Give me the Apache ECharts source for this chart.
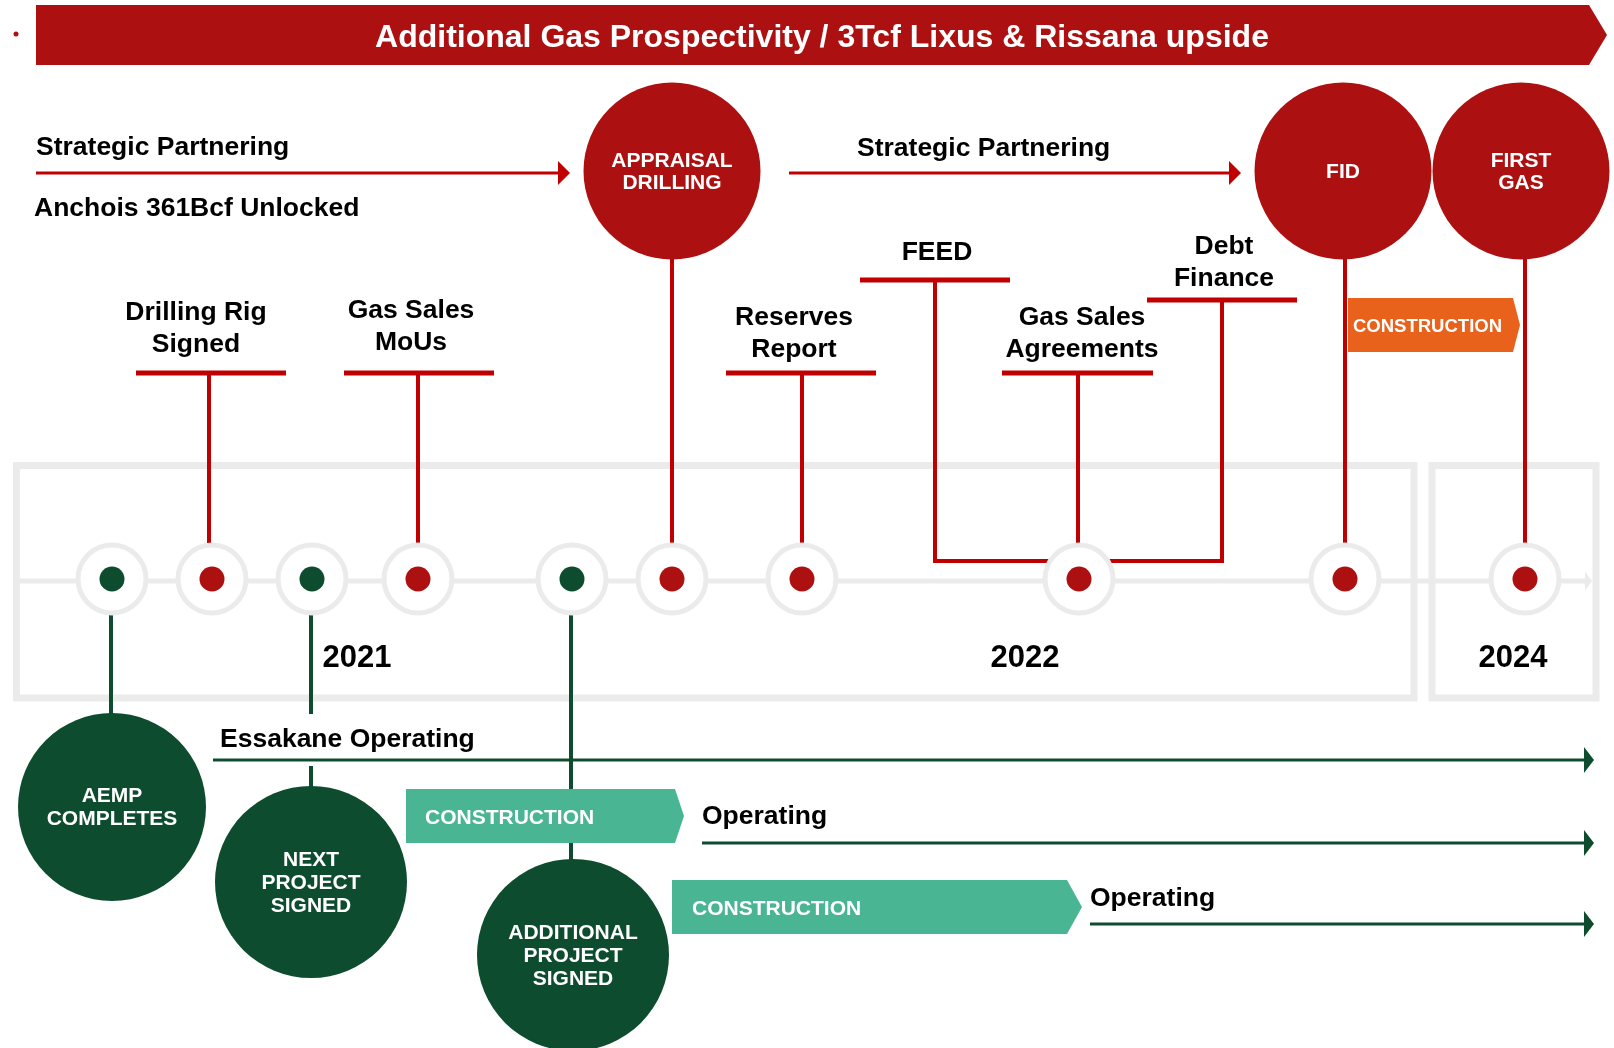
<!DOCTYPE html>
<html>
<head>
    <meta charset="utf-8">
    <title>Gas timeline</title>
    <script src="https://cdn.jsdelivr.net/npm/echarts@6/dist/echarts.min.js"></script>
    <style>
        html, body { margin: 0; padding: 0; background-color: #ffffff; }
        #main { width: 1614px; height: 1048px; }
    </style>
</head>
<body>
<div id="main"></div>
<script>
    // values, in the picture's own units (px of the 1614x1048 original)
    const headerTitle = 'Additional Gas Prospectivity / 3Tcf Lixus & Rissana upside';

    const years = ['2021', '2022', '2024'];
    const yearX = [357, 1025, 1513];
    const yearY = 656;

    // grey frames round the timeline
    const frameFrom = [16.5, 1432];
    const frameTo = [1414, 1596];
    const frameTop = 465.5;
    const frameBottom = 698;

    // dots on the timeline, left to right
    const dotX = [112, 212, 312, 418, 572, 672, 802, 1079, 1345, 1525];
    const dotGroup = ['green', 'red', 'green', 'red', 'green', 'red', 'red', 'red', 'red', 'red'];
    const dotY = 579;
    const trackFrom = 20;
    const trackTo = 1592;
    const trackY = 581;

    // big milestones
    const redMilestones = ['APPRAISAL\nDRILLING', 'FID', 'FIRST\nGAS'];
    const redMilestoneX = [672, 1343, 1521];
    const redMilestoneY = [171, 171, 171];
    const redMilestoneDot = [5, 8, 9];

    const greenMilestones = ['AEMP\nCOMPLETES', 'NEXT\nPROJECT\nSIGNED', 'ADDITIONAL\nPROJECT\nSIGNED'];
    const greenMilestoneX = [112, 311, 573];
    const greenMilestoneY = [807, 882, 955];
    const greenMilestoneDot = [0, 2, 4];

    // smaller events with a T marker
    const events = ['Drilling Rig\nSigned', 'Gas Sales\nMoUs', 'Reserves\nReport', 'FEED', 'Gas Sales\nAgreements', 'Debt\nFinance'];
    const eventTextX = [196, 411, 794, 937, 1082, 1224];
    const eventTextY = [327, 325, 332, 251, 332, 261];
    const eventBarFrom = [136, 344, 726, 860, 1002, 1147];
    const eventBarTo = [286, 494, 876, 1010, 1153, 1297];
    const eventBarY = [373, 373, 373, 280, 373, 300];
    const eventStemX = [209, 418, 802, 935, 1078, 1222];
    const bracketEvents = [3, 5];
    const bracketY = 561;

    // arrows
    const redArrows = ['Strategic Partnering', 'Strategic Partnering'];
    const redArrowFrom = [36, 789];
    const redArrowTo = [570, 1241];
    const redArrowY = [173, 173];
    const redArrowTextX = [36, 857];
    const redArrowTextY = [146, 147];
    const noteText = 'Anchois 361Bcf Unlocked';
    const noteX = 34, noteY = 207;

    const greenArrows = ['Essakane Operating', 'Operating', 'Operating'];
    const greenArrowFrom = [213, 702, 1090];
    const greenArrowTo = [1594, 1594, 1594];
    const greenArrowY = [760, 843, 924];
    const greenTextX = [220, 702, 1090];
    const greenTextY = [738, 815, 897];

    // construction phases
    const phases = ['CONSTRUCTION', 'CONSTRUCTION', 'CONSTRUCTION'];
    const phaseKind = ['gas', 'mine', 'mine'];
    const phaseFrom = [1348, 406, 672];
    const phaseTo = [1513, 675, 1067];
    const phaseTip = [1520, 684, 1082];
    const phaseTop = [298, 789, 880];
    const phaseBottom = [352, 843, 934];
    const phaseTextX = [1353, 425, 692];

    var FONT = '"Liberation Sans", Arial, Helvetica, sans-serif';
    var RED = '#ad1011', LINE_RED = '#c00000', GREEN = '#0d4c2e', TEAL = '#4ab593', ORANGE = '#e8621b', GREY = '#ebebeb';
    var TEXT_DY = 2;   // Liberation sits a bit high with verticalAlign middle

    function seg(api, x1, y1, x2, y2, color, w) {
        var a = api.coord([x1, y1]), b = api.coord([x2, y2]);
        return { type: 'line', shape: { x1: a[0], y1: a[1], x2: b[0], y2: b[1] }, style: { stroke: color, lineWidth: w } };
    }
    function poly(api, pts, fill) {
        return { type: 'polygon', shape: { points: pts.map(function (p) { return api.coord(p); }) }, style: { fill: fill } };
    }
    function disc(api, x, y, r, fill, stroke, w) {
        var c = api.coord([x, y]);
        return { type: 'circle', shape: { cx: c[0], cy: c[1], r: api.size([r, 0])[0] }, style: { fill: fill, stroke: stroke || null, lineWidth: w || 0 } };
    }
    function txt(api, x, y, s, size, color, align, lh) {
        var p = api.coord([x, y + TEXT_DY]);
        return {
            type: 'text', x: p[0], y: p[1],
            style: { text: s, fill: color, fontSize: size, fontWeight: 'bold', fontFamily: FONT,
                align: align || 'center', verticalAlign: 'middle', lineHeight: lh || Math.round(size * 1.2) }
        };
    }
    function idx(arr) { return arr.map(function (v, i) { return [i]; }); }
    function arrow(api, x1, x2, y, color, w, len, half) {
        return { type: 'group', children: [
            seg(api, x1, y, x2 - len + 1, y, color, w),
            poly(api, [[x2 - len, y - half], [x2, y], [x2 - len, y + half]], color)
        ] };
    }

    var ringTop = dotY - 36, ringBottom = dotY + 36;
    var LABEL = 26.5;

    var option = {
        animation: false,
        grid: { left: 0, right: 0, top: 0, bottom: 0 },
        xAxis: { type: 'value', min: 0, max: 1614, show: false },
        yAxis: { type: 'value', min: 0, max: 1048, inverse: true, show: false },
        series: [
            {   // grey frames
                type: 'custom', z: 1, silent: true, data: idx(frameFrom),
                renderItem: function (params, api) {
                    var i = params.dataIndex;
                    var a = api.coord([frameFrom[i], frameTop]), b = api.coord([frameTo[i], frameBottom]);
                    return { type: 'rect', shape: { x: a[0], y: a[1], width: b[0] - a[0], height: b[1] - a[1] },
                        style: { fill: 'none', stroke: GREY, lineWidth: 7 } };
                }
            },
            {   // grey track
                type: 'custom', z: 2, silent: true, data: [[0]],
                renderItem: function (params, api) {
                    return arrow(api, trackFrom, trackTo, trackY, GREY, 5, 7, 9.5);
                }
            },
            {   // header banner
                type: 'custom', z: 3, silent: true, data: [[0]],
                renderItem: function (params, api) {
                    return { type: 'group', children: [
                        poly(api, [[36, 5], [1589, 5], [1607, 35], [1589, 65], [36, 65]], RED),
                        disc(api, 16, 34, 2.5, RED),
                        txt(api, 822, 36, headerTitle, 32, '#ffffff')
                    ] };
                }
            },
            {   // T markers of the events
                type: 'custom', z: 4, silent: true, data: idx(events),
                renderItem: function (params, api) {
                    var i = params.dataIndex;
                    var end = bracketEvents.indexOf(i) >= 0 ? bracketY + 2 : ringTop;
                    return { type: 'group', children: [
                        seg(api, eventBarFrom[i], eventBarY[i], eventBarTo[i], eventBarY[i], LINE_RED, 5),
                        seg(api, eventStemX[i], eventBarY[i], eventStemX[i], end, LINE_RED, 4)
                    ] };
                }
            },
            {   // bracket joining FEED and Debt Finance
                type: 'custom', z: 4, silent: true, data: [[0]],
                renderItem: function (params, api) {
                    return seg(api, eventStemX[bracketEvents[0]] - 2, bracketY, eventStemX[bracketEvents[1]] + 2, bracketY, LINE_RED, 4);
                }
            },
            {   // stems of the big red milestones
                type: 'custom', z: 4, silent: true, data: idx(redMilestones),
                renderItem: function (params, api) {
                    var i = params.dataIndex, x = dotX[redMilestoneDot[i]];
                    return seg(api, x, redMilestoneY[i], x, ringTop, LINE_RED, 4);
                }
            },
            {   // stems of the big green milestones
                type: 'custom', z: 4, silent: true, data: idx(greenMilestones),
                renderItem: function (params, api) {
                    var i = params.dataIndex, x = dotX[greenMilestoneDot[i]] - 1;
                    return seg(api, x, ringBottom, x, greenMilestoneY[i], GREEN, 4);
                }
            },
            {   // red arrows
                type: 'custom', z: 5, silent: true, data: idx(redArrows),
                renderItem: function (params, api) {
                    var i = params.dataIndex;
                    return arrow(api, redArrowFrom[i], redArrowTo[i], redArrowY[i], LINE_RED, 3, 12, 12);
                }
            },
            {   // construction chevrons
                type: 'custom', z: 6, silent: true, data: idx(phases),
                renderItem: function (params, api) {
                    var i = params.dataIndex;
                    var mid = (phaseTop[i] + phaseBottom[i]) / 2;
                    var gas = phaseKind[i] === 'gas';
                    return { type: 'group', children: [
                        poly(api, [[phaseFrom[i], phaseTop[i]], [phaseTo[i], phaseTop[i]], [phaseTip[i], mid],
                            [phaseTo[i], phaseBottom[i]], [phaseFrom[i], phaseBottom[i]]], gas ? ORANGE : TEAL),
                        txt(api, phaseTextX[i], mid, phases[i], gas ? 18.5 : 21, '#ffffff', 'left')
                    ] };
                }
            },
            {   // big red milestones
                type: 'custom', z: 7, silent: true, data: idx(redMilestones),
                renderItem: function (params, api) {
                    var i = params.dataIndex;
                    return { type: 'group', children: [
                        disc(api, redMilestoneX[i], redMilestoneY[i], 88.5, RED),
                        txt(api, redMilestoneX[i], redMilestoneY[i] - 1, redMilestones[i], 21, '#ffffff', 'center', 22)
                    ] };
                }
            },
            {   // big green milestones
                type: 'custom', z: 7, silent: true, data: idx(greenMilestones),
                renderItem: function (params, api) {
                    var i = params.dataIndex;
                    return { type: 'group', children: [
                        disc(api, greenMilestoneX[i], greenMilestoneY[i], i === 0 ? 94 : 96, GREEN),
                        txt(api, greenMilestoneX[i], greenMilestoneY[i] - 1, greenMilestones[i], 21, '#ffffff', 'center', 23)
                    ] };
                }
            },
            {   // rings and dots on the timeline
                type: 'custom', z: 8, silent: true, data: idx(dotX),
                renderItem: function (params, api) {
                    var i = params.dataIndex;
                    return { type: 'group', children: [
                        disc(api, dotX[i], dotY, 34, '#ffffff', GREY, 5),
                        disc(api, dotX[i], dotY, 12.5, dotGroup[i] === 'green' ? GREEN : RED)
                    ] };
                }
            },
            {   // event labels
                type: 'custom', z: 9, silent: true, data: idx(events),
                renderItem: function (params, api) {
                    var i = params.dataIndex;
                    return txt(api, eventTextX[i], eventTextY[i], events[i], LABEL, '#000000', 'center', 32);
                }
            },
            {   // red arrow labels
                type: 'custom', z: 9, silent: true, data: idx(redArrows),
                renderItem: function (params, api) {
                    var i = params.dataIndex;
                    var children = [txt(api, redArrowTextX[i], redArrowTextY[i], redArrows[i], LABEL, '#000000', 'left')];
                    if (i === 0) children.push(txt(api, noteX, noteY, noteText, LABEL, '#000000', 'left'));
                    return { type: 'group', children: children };
                }
            },
            {   // green arrow labels; the first one breaks the green stem behind it
                type: 'custom', z: 9, silent: true, data: idx(greenArrows),
                renderItem: function (params, api) {
                    var i = params.dataIndex;
                    var t = txt(api, greenTextX[i], greenTextY[i], greenArrows[i], LABEL, '#000000', 'left');
                    if (i === 0) {
                        t.style.backgroundColor = '#ffffff';
                        t.style.padding = [14, 0, 6, 0];
                    }
                    return t;
                }
            },
            {   // green arrows, over the label backgrounds
                type: 'custom', z: 10, silent: true, data: idx(greenArrows),
                renderItem: function (params, api) {
                    var i = params.dataIndex;
                    return arrow(api, greenArrowFrom[i], greenArrowTo[i], greenArrowY[i], GREEN, 3, 10, 13);
                }
            },
            {   // years
                type: 'custom', z: 9, silent: true, data: idx(years),
                renderItem: function (params, api) {
                    var i = params.dataIndex;
                    return txt(api, yearX[i], yearY, years[i], 31, '#000000');
                }
            }
        ]
    };

    var chart = echarts.init(document.getElementById('main'));
    chart.setOption(option);
</script>
</body>
</html>
